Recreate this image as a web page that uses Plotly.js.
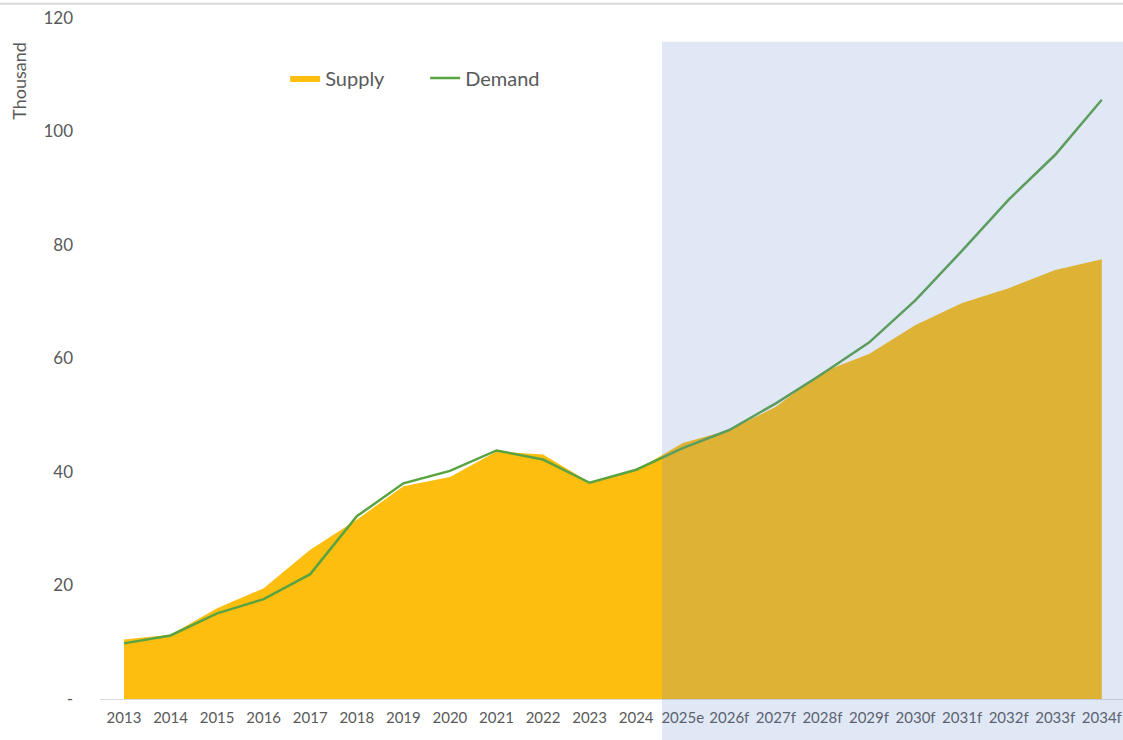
<!DOCTYPE html>
<html>
<head>
<meta charset="utf-8">
<script src="https://cdn.plot.ly/plotly-3.0.1.min.js"></script>
<style>html,body{margin:0;padding:0;background:#fff;}#chart{width:1123px;height:740px;}</style>
</head>
<body>
<div id="chart"></div>
<script>
const years = ["2013","2014","2015","2016","2017","2018","2019","2020","2021","2022","2023","2024",
  "2025e","2026f","2027f","2028f","2029f","2030f","2031f","2032f","2033f","2034f"];
const supply = [10.5,11.3,16.0,19.5,26.3,31.6,37.5,39.1,43.6,43.1,38.2,40.3,
  45.1,47.4,51.5,57.6,60.8,65.9,69.8,72.4,75.6,77.5];
const demand = [9.8,11.2,15.1,17.6,22.0,32.2,38.0,40.2,43.8,42.2,38.1,40.4,
  44.2,47.4,52.1,57.3,62.8,70.3,79.0,88.0,95.9,105.6];
const yTickVals = [0,20,40,60,80,100,120];
const yTickText = ["-","20","40","60","80","100","120"];
const forecastStart = 11.555; // boundary of shaded forecast region (x index)

const idx = years.map((_, i) => i);

const traces = [
  {
    x: idx, y: supply, name: "Supply", type: "scatter", mode: "lines",
    fill: "tozeroy", fillcolor: "#FDBE10", line: {color: "#FDBE10", width: 0}
  },
  {
    x: idx, y: demand, name: "Demand", type: "scatter", mode: "lines",
    line: {color: "#5AA341", width: 2.5}
  }
];

const font = "Lato, 'Open Sans', sans-serif";
const layout = {
  width: 1123, height: 740,
  margin: {l: 100, r: 0, t: 18, b: 41},
  paper_bgcolor: "#fff", plot_bgcolor: "rgba(0,0,0,0)",
  font: {family: font, color: "#595959"},
  showlegend: true,
  legend: {orientation: "h", x: 0.181, y: 0.912, xanchor: "left", yanchor: "middle",
    font: {size: 20, color: "#595959"}, bgcolor: "rgba(0,0,0,0)", itemwidth: 30,
    entrywidth: 95, entrywidthmode: "pixels"},
  xaxis: {
    range: [-0.515, 21.455], tickmode: "array", tickvals: idx, ticktext: years,
    showgrid: false, zeroline: false, showline: true, linecolor: "#d9d9d9", linewidth: 1,
    ticks: "", tickfont: {size: 15, color: "#595959"}, ticklabelstandoff: 5, fixedrange: true
  },
  yaxis: {
    range: [0, 120], tickmode: "array", tickvals: yTickVals, ticktext: yTickText,
    showgrid: false, zeroline: false, showline: false, ticks: "",
    tickfont: {size: 17, color: "#595959"}, ticklabelstandoff: 26
  },
  annotations: [
    {text: "Thousand", xref: "paper", yref: "paper", x: -0.08, y: 0.908,
     xanchor: "center", yanchor: "middle", textangle: -90, showarrow: false,
     font: {size: 18, color: "#595959"}}
  ],
  shapes: [
    {type: "rect", xref: "x", yref: "paper", x0: forecastStart, x1: 30,
     y0: -0.07, y1: 0.965, fillcolor: "rgb(100,135,205)", opacity: 0.2,
     line: {width: 0}, layer: "above"},
    {type: "line", xref: "paper", yref: "paper", x0: -0.2, x1: 1.1, y0: 1.021, y1: 1.021,
     line: {color: "#d9d9d9", width: 2}}
  ]
};

Plotly.newPlot("chart", traces, layout, {displayModeBar: false, staticPlot: true});
</script>
</body>
</html>
